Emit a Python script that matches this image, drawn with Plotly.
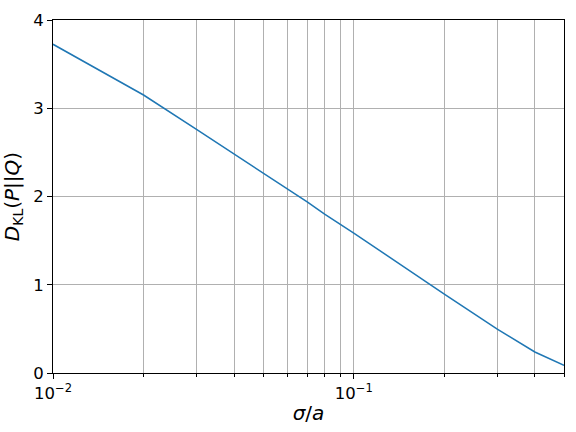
import plotly.graph_objects as go

# sigma/a sample points and KL divergence
sigma_over_a = [0.01, 0.02, 0.03, 0.04, 0.05, 0.06, 0.07, 0.08, 0.09, 0.1, 0.2, 0.3, 0.4, 0.5]
d_kl = [3.725, 3.15, 2.76, 2.48, 2.27, 2.09, 1.94, 1.80, 1.69, 1.585, 0.895, 0.496, 0.238, 0.086]

x_major = [0.01, 0.1]
x_major_text = ["10<sup>\u22122</sup>", "10<sup>\u22121</sup>"]
x_minor = [0.02, 0.03, 0.04, 0.05, 0.06, 0.07, 0.08, 0.09, 0.2, 0.3, 0.4, 0.5]
y_ticks = [0, 1, 2, 3, 4]

grid = "#b0b0b0"

fig = go.Figure()
fig.add_trace(go.Scatter(
    x=sigma_over_a, y=d_kl, mode="lines",
    line={"color": "#1f77b4", "width": 1.5},
    showlegend=False,
))

fig.update_layout(
    width=576, height=432,
    margin={"l": 53, "r": 11, "t": 17, "b": 57},
    paper_bgcolor="white", plot_bgcolor="white",
    font={"family": "DejaVu Sans", "size": 16.5, "color": "black"},
    xaxis={
        "type": "log",
        "range": [-2, -0.30103],
        "tickmode": "array", "tickvals": x_major, "ticktext": x_major_text,
        "ticks": "outside", "ticklen": 5, "tickcolor": "black",
        "showgrid": True, "gridcolor": grid, "gridwidth": 0.8,
        "minor": {"tickmode": "array", "tickvals": x_minor, "ticks": "outside",
                  "ticklen": 3, "tickcolor": "black",
                  "showgrid": True, "gridcolor": grid, "gridwidth": 0.8},
        "showline": True, "linecolor": "black", "linewidth": 1, "mirror": True,
        "zeroline": False,
        "title": {"text": "<i>\u03c3</i>/<i>a</i>", "standoff": 4},
    },
    yaxis={
        "range": [0, 4],
        "tickmode": "array", "tickvals": y_ticks,
        "ticks": "outside", "ticklen": 5, "tickcolor": "black",
        "showgrid": True, "gridcolor": grid, "gridwidth": 0.8,
        "showline": True, "linecolor": "black", "linewidth": 1, "mirror": True,
        "zeroline": False,
        "title": {"text": "<i>D</i><sub>KL</sub>(<i>P</i>||<i>Q</i>)", "standoff": 8},
    },
)

# drop the browser's default body margin so the figure sits at the page corner
fig.write_html(
    "out.html",
    config={"displayModeBar": False},
    post_script="document.body.style.margin='0';",
)
